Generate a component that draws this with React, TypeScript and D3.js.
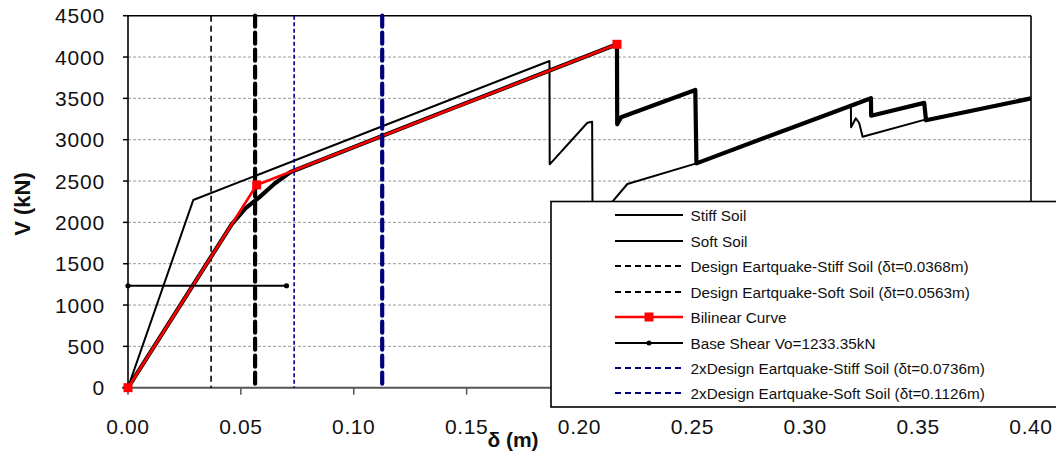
import React from "react";
import * as d3 from "d3";

// ---------- data ----------
const xTicks = [0, 0.05, 0.1, 0.15, 0.2, 0.25, 0.3, 0.35, 0.4];
const yTicks = [0, 500, 1000, 1500, 2000, 2500, 3000, 3500, 4000, 4500];

const stiffDelta = [0, 0.0289, 0.1867, 0.1868, 0.2035, 0.2056, 0.2058, 0.2146, 0.2212, 0.2518, 0.3202, 0.3203, 0.3224, 0.3239, 0.3254, 0.3527, 0.4];
const stiffV = [0, 2270, 3952, 2702, 3205, 3218, 1850, 2250, 2464, 2714, 3411, 3150, 3259, 3202, 3036, 3240, 3500];

const softDelta = [0, 0.046, 0.052, 0.058, 0.065, 0.072, 0.14, 0.2166, 0.2167, 0.2184, 0.2513, 0.2518, 0.2973, 0.3202, 0.3291, 0.3292, 0.3527, 0.3535, 0.4];
const softV = [0, 1980, 2170, 2300, 2470, 2610, 3340, 4154, 3186, 3271, 3601, 2714, 3178, 3411, 3501, 3290, 3445, 3235, 3500];

const bilinearDelta = [0, 0.057, 0.2166];
const bilinearV = [0, 2453, 4154];

const baseShearDelta = [0, 0.0702];
const baseShearV = [1233.35, 1233.35];

const targetNames = [
  "Design Eartquake-Stiff Soil (δt=0.0368m)",
  "Design Eartquake-Soft Soil (δt=0.0563m)",
  "2xDesign Eartquake-Stiff Soil (δt=0.0736m)",
  "2xDesign Eartquake-Soft Soil (δt=0.1126m)",
];
const targetDelta = [0.0368, 0.0563, 0.0736, 0.1126];

const legendLabels = [
  "Stiff Soil",
  "Soft Soil",
  targetNames[0],
  targetNames[1],
  "Bilinear Curve",
  "Base Shear Vo=1233.35kN",
  targetNames[2],
  targetNames[3],
];

// ---------- styles ----------
const NAVY = "#00007f";
const targetStyles = [
  { color: "#000", width: 1.6, dash: "6,4" },
  { color: "#000", width: 4.2, dash: "11,6" },
  { color: NAVY, width: 1.6, dash: "4,2.5" },
  { color: NAVY, width: 4.2, dash: "11,6" },
];

const W = 1056;
const H = 455;
const left = 128;
const right = 1031;
const top = 15.7;
const bottom = 387.7;

export default function App() {
  const x = d3.scaleLinear().domain([0, 0.4]).range([left, right]);
  const y = d3.scaleLinear().domain([0, 4500]).range([bottom, top]);
  const line = d3
    .line<[number, number]>()
    .x((d) => x(d[0]))
    .y((d) => y(d[1]));

  const zip = (a: number[], b: number[]) => a.map((v, i) => [v, b[i]] as [number, number]);

  const font = "'Liberation Sans', Arial, sans-serif";

  // legend geometry
  const lgX = 551;
  const lgY = 201.5;
  const lgH = 205.5;
  const row0 = 215.3;
  const rowStep = 25.45;
  const sx1 = 615;
  const sx2 = 683;
  const tx = 690.5;

  const legendSample = (i: number, cy: number) => {
    if (i === 0 || i === 1)
      return <line x1={sx1} x2={sx2} y1={cy} y2={cy} stroke="#000" strokeWidth={2} />;
    if (i === 4)
      return (
        <g>
          <line x1={sx1} x2={sx2} y1={cy} y2={cy} stroke="#ff0000" strokeWidth={2.4} />
          <rect x={(sx1 + sx2) / 2 - 4.5} y={cy - 4.5} width={9} height={9} fill="#ff0000" />
        </g>
      );
    if (i === 5)
      return (
        <g>
          <line x1={sx1} x2={sx2} y1={cy} y2={cy} stroke="#000" strokeWidth={2} />
          <circle cx={(sx1 + sx2) / 2} cy={cy} r={2.5} fill="#000" />
        </g>
      );
    const color = i >= 6 ? NAVY : "#000";
    return <line x1={sx1} x2={sx2} y1={cy} y2={cy} stroke={color} strokeWidth={2} strokeDasharray="6,4" />;
  };

  return (
    <div style={{ position: "fixed", left: 0, top: 0, width: W, height: H, background: "#fff" }}>
      <svg width={W} height={H} style={{ display: "block" }} fontFamily={font}>
        <rect x={0} y={0} width={W} height={H} fill="#fff" />

        {/* grid */}
        {yTicks
          .filter((t) => t > 0 && t < 4500)
          .map((t) => (
            <line key={"g" + t} x1={left} x2={right} y1={y(t)} y2={y(t)} stroke="#9a9a9a" strokeWidth={1} strokeDasharray="3,2" />
          ))}

        {/* frame */}
        <line x1={left} x2={right} y1={y(4500)} y2={y(4500)} stroke="#000" strokeWidth={1.6} />
        <line x1={right} x2={right} y1={y(4500)} y2={bottom} stroke="#000" strokeWidth={1.6} />
        <line x1={left - 6} x2={right} y1={bottom} y2={bottom} stroke="#555" strokeWidth={2} />
        <line x1={left} x2={left} y1={top} y2={bottom} stroke="#000" strokeWidth={1.6} />

        {/* ticks */}
        {xTicks.map((t) => (
          <line key={"xt" + t} x1={x(t)} x2={x(t)} y1={bottom} y2={bottom + 7} stroke="#555" strokeWidth={1.5} />
        ))}
        {yTicks.map((t) => (
          <line key={"yt" + t} x1={left - 5} x2={left} y1={y(t)} y2={y(t)} stroke="#000" strokeWidth={1.5} />
        ))}

        {/* tick labels */}
        {yTicks.map((t) => (
          <text key={"yl" + t} x={105} y={y(t)} dy="0.36em" textAnchor="end" fontSize={21} letterSpacing={0.8} fill="#111">
            {t}
          </text>
        ))}
        {xTicks.map((t) => (
          <text key={"xl" + t} x={x(t)} y={434} textAnchor="middle" fontSize={21} letterSpacing={0.6} fill="#111">
            {t.toFixed(2)}
          </text>
        ))}

        {/* axis titles */}
        <text x={513} y={447} textAnchor="middle" fontSize={21} fontWeight="bold" fill="#111">
          δ (m)
        </text>
        <text transform="translate(30,204) rotate(-90)" textAnchor="middle" fontSize={22} fontWeight="bold" fill="#111">
          V (kN)
        </text>

        {/* series, in legend order */}
        <path d={line(zip(stiffDelta, stiffV)) || ""} fill="none" stroke="#000" strokeWidth={2} strokeLinejoin="round" />
        <path d={line(zip(softDelta, softV)) || ""} fill="none" stroke="#000" strokeWidth={4.2} strokeLinejoin="round" />

        {[0, 1].map((i) => (
          <line
            key={"tg" + i}
            x1={x(targetDelta[i])}
            x2={x(targetDelta[i])}
            y1={y(4500)}
            y2={y(0)}
            stroke={targetStyles[i].color}
            strokeWidth={targetStyles[i].width}
            strokeDasharray={targetStyles[i].dash}
            strokeLinecap={i === 1 ? "round" : "butt"}
          />
        ))}

        <path d={line(zip(bilinearDelta, bilinearV)) || ""} fill="none" stroke="#ff0000" strokeWidth={2.6} strokeLinejoin="round" />
        {bilinearDelta.map((d, i) => (
          <rect key={"bm" + i} x={x(d) - 4.5} y={y(bilinearV[i]) - 4.5} width={9} height={9} fill="#ff0000" />
        ))}

        <path d={line(zip(baseShearDelta, baseShearV)) || ""} fill="none" stroke="#000" strokeWidth={2} />
        {baseShearDelta.map((d, i) => (
          <circle key={"bs" + i} cx={x(d)} cy={y(baseShearV[i])} r={2.6} fill="#000" />
        ))}

        {[2, 3].map((i) => (
          <line
            key={"tg" + i}
            x1={x(targetDelta[i])}
            x2={x(targetDelta[i])}
            y1={y(4500)}
            y2={y(0)}
            stroke={targetStyles[i].color}
            strokeWidth={targetStyles[i].width}
            strokeDasharray={targetStyles[i].dash}
            strokeLinecap={i === 3 ? "round" : "butt"}
          />
        ))}

        {/* legend */}
        <rect x={lgX} y={lgY} width={W - lgX + 20} height={lgH} fill="#fff" stroke="#000" strokeWidth={1.6} />
        {legendLabels.map((lab, i) => {
          const cy = Math.round(row0 + i * rowStep);
          return (
            <g key={"lg" + i}>
              {legendSample(i, cy)}
              <text x={tx} y={cy} dy="0.36em" fontSize={15.3} fill="#111">
                {lab}
              </text>
            </g>
          );
        })}
      </svg>
    </div>
  );
}
